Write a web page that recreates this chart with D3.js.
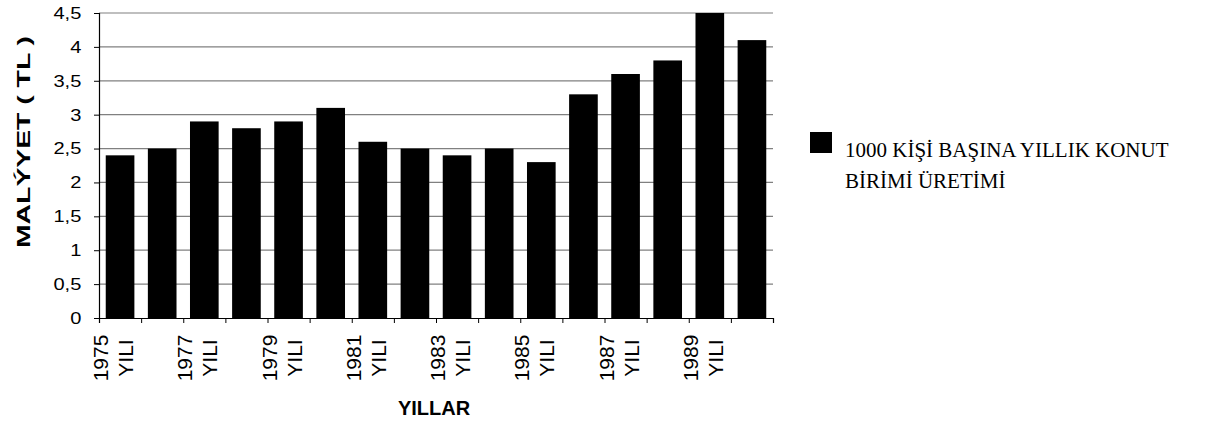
<!DOCTYPE html>
<html>
<head>
<meta charset="utf-8">
<script src="https://cdn.jsdelivr.net/npm/d3@7"></script>
<style>
  body { margin: 0; background: white; }
  svg { display: block; }
</style>
</head>
<body>
<div id="chart"></div>
<script>
// data
var years = ["1975", "1976", "1977", "1978", "1979", "1980", "1981", "1982",
             "1983", "1984", "1985", "1986", "1987", "1988", "1989", "1990"];
var values = [2.4, 2.5, 2.9, 2.8, 2.9, 3.1, 2.6, 2.5, 2.4, 2.5, 2.3, 3.3, 3.6, 3.8, 4.5, 4.1];
var yTicks = [0, 0.5, 1, 1.5, 2, 2.5, 3, 3.5, 4, 4.5];
var seriesName = ["1000 KİŞİ BAŞINA YILLIK KONUT", "BİRİMİ ÜRETİMİ"];

var width = 1213, height = 427;
var plot = {left: 99, right: 773, top: 13, bottom: 318};

var svg = d3.select("#chart")
    .append("svg")
    .attr("width", width)
    .attr("height", height);

var x = d3.scaleBand()
    .domain(years)
    .range([plot.left, plot.right])
    .paddingInner(0.32)
    .paddingOuter(0.16);

var y = d3.scaleLinear()
    .domain([0, 4.5])
    .range([plot.bottom, plot.top]);

// gridlines
svg.append("g")
    .selectAll("line")
    .data(yTicks.filter(function (d) { return d > 0; }))
    .enter().append("line")
    .attr("x1", plot.left)
    .attr("x2", plot.right)
    .attr("y1", function (d) { return y(d); })
    .attr("y2", function (d) { return y(d); })
    .attr("stroke", "#808080")
    .attr("stroke-width", 1.2);

// bars
svg.append("g").selectAll(".bar")
    .data(values)
    .enter().append("rect")
    .attr("class", "bar")
    .attr("x", function (d, i) { return x(years[i]); })
    .attr("y", function (d) { return y(d); })
    .attr("width", x.bandwidth())
    .attr("height", function (d) { return y(0) - y(d); })
    .attr("fill", "black");

// Y axis
var yAxis = svg.append("g")
    .attr("transform", "translate(" + plot.left + ",0)")
    .call(d3.axisLeft(y).tickValues(yTicks).tickSize(5).tickFormat(function (d) {
        return String(d).replace(".", ",");
    }));
yAxis.select(".domain").attr("stroke", "black").attr("stroke-width", 1.2);
yAxis.selectAll(".tick line").attr("stroke", "black");
yAxis.selectAll(".tick text")
    .attr("x", -15)
    .attr("transform", "scale(1.18,1)")
    .style("font-family", "Liberation Sans, Arial, sans-serif")
    .style("font-size", "17px")
    .attr("fill", "black");

// X axis: tick marks sit on category boundaries
var xb = d3.scaleLinear().domain([0, years.length]).range([plot.left, plot.right]);
var xAxis = svg.append("g")
    .attr("transform", "translate(0," + plot.bottom + ")")
    .call(d3.axisBottom(xb).tickValues(d3.range(years.length + 1)).tickSize(5).tickFormat(""));
xAxis.select(".domain").attr("stroke", "black").attr("stroke-width", 1.2);
xAxis.selectAll(".tick line").attr("stroke", "black");

// category labels, every other year, two rotated lines
var lab = svg.append("g").selectAll(".xlab")
    .data(years.filter(function (d, i) { return i % 2 === 0; }))
    .enter().append("text")
    .attr("class", "xlab")
    .attr("transform", function (d) {
        return "translate(" + (x(d) + x.bandwidth() / 2 - 2) + ",358) rotate(-90)";
    })
    .attr("text-anchor", "middle")
    .style("font-family", "Liberation Sans, Arial, sans-serif")
    .style("font-size", "21px")
    .attr("fill", "black");
lab.append("tspan").attr("x", 0).attr("y", -10).text(function (d) { return d; });
lab.append("tspan").attr("x", 0).attr("y", 15).text("YILI");

// axis titles
svg.append("text")
    .attr("x", 434)
    .attr("y", 415)
    .attr("text-anchor", "middle")
    .style("font-family", "Liberation Sans, Arial, sans-serif")
    .style("font-weight", "bold")
    .style("font-size", "20px")
    .text("YILLAR");

svg.append("text")
    .attr("transform", "translate(23,142) rotate(-90)")
    .attr("y", 7)
    .attr("text-anchor", "middle")
    .attr("textLength", 212)
    .attr("lengthAdjust", "spacingAndGlyphs")
    .style("font-family", "Liberation Sans, Arial, sans-serif")
    .style("font-weight", "bold")
    .style("font-size", "19px")
    .text("MALÝYET ( TL )");

// legend
var legend = svg.append("g");
legend.append("rect")
    .attr("x", 810)
    .attr("y", 132)
    .attr("width", 22)
    .attr("height", 21)
    .attr("fill", "black");
legend.selectAll("text")
    .data(seriesName)
    .enter().append("text")
    .attr("x", 845)
    .attr("y", function (d, i) { return 157 + i * 31; })
    .style("font-family", "Liberation Serif, Times New Roman, serif")
    .style("font-size", "21px")
    .attr("fill", "black")
    .text(function (d) { return d; });
</script>
</body>
</html>
